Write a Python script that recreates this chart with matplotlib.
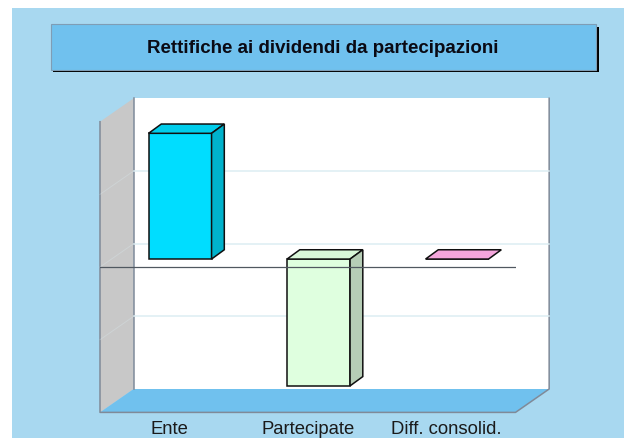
import matplotlib
matplotlib.use('Agg')
import matplotlib.pyplot as plt
from matplotlib.patches import Rectangle

plt.rcParams['font.family'] = ['Liberation Sans', 'DejaVu Sans']

title = 'Rettifiche ai dividendi da partecipazioni'
categories = ['Ente', 'Partecipate', 'Diff. consolid.']
values = [1.73, -1.745, 0.0]
grid_values = [-1, 0, 1]
face_colors = ['#00DDFF', '#DFFFDF', '#F4A6DC']
side_colors = ['#00B2CC', '#B6CDB6', '#C485B0']
top_colors = ['#00CDEB', '#D9F7D9', '#F4A6DC']

W, H = 624, 439
BG = '#A8D8F0'
BLUE = '#70C1EE'
WALL = '#C8C8C8'
EDGE = '#808A98'
GRID = '#DCEDF2'

# depth of the whole box and of one bar, in data units
DX, DY = 0.243, 0.322
BAR_DX, BAR_DY = 0.092, 0.128
LIFT_X, LIFT_Y = 0.078, 0.11
BAR_W = 0.455


def px_rect(fig, x0, y0, x1, y1, **kw):
    # rectangle given in image pixels, y going down
    r = Rectangle((x0 / W, 1 - y1 / H), (x1 - x0) / W, (y1 - y0) / H,
                  transform=fig.transFigure, zorder=-1, **kw)
    fig.add_artist(r)


fig = plt.figure(figsize=(W / 100, H / 100), dpi=100, facecolor='white')
px_rect(fig, 12, 9, W, H, fc=BG, ec='none')
px_rect(fig, 53, 28, 598.5, 73, fc='#000000', ec='none')
px_rect(fig, 51, 25, 596, 70.5, fc=BLUE, ec='#7F9DB5', lw=0.8)
fig.text(323 / W, 1 - 48.5 / H, title, ha='center', va='center',
         fontsize=13.5, fontweight='bold', color='#0A0A14')

ax = fig.add_axes([100 / W, 1 - 413.4 / H, 415.5 / W, 290.7 / H])
ax.set_xlim(0, 3)
ax.set_ylim(-2, 2)
ax.patch.set_visible(False)
for s in ax.spines.values():
    s.set_visible(False)
ax.set_yticks([])
ax.set_xticks([i + 0.5 for i in range(len(categories))])
ax.set_xticklabels(categories, fontsize=13.3, color='#1A1A1A')
ax.tick_params(axis='x', length=0, pad=5.5)

# walls and floor
ax.fill([DX, 3 + DX, 3 + DX, DX], [-2 + DY, -2 + DY, 2 + DY, 2 + DY],
        fc='white', ec='none', clip_on=False, zorder=1)
ax.fill([0, DX, DX, 0], [-2, -2 + DY, 2 + DY, 2], fc=WALL, ec='none', clip_on=False, zorder=1)
ax.fill([0, 3, 3 + DX, DX], [-2, -2, -2 + DY, -2 + DY], fc=BLUE, ec='none', clip_on=False, zorder=1)
ax.plot([0, 0, 3, 3 + DX, 3 + DX], [2, -2, -2, -2 + DY, 2 + DY], color=EDGE, lw=1.1,
        clip_on=False, zorder=2)
ax.plot([DX, DX], [-2 + DY, 2 + DY], color=EDGE, lw=1.1, clip_on=False, zorder=2)

for g in grid_values:
    ax.plot([DX, 3 + DX], [g + DY, g + DY], color=GRID, lw=1.1, clip_on=False, zorder=2)
    ax.plot([0, DX], [g, g + DY], color=GRID, lw=0.7, alpha=0.3, clip_on=False, zorder=2)

# bars: front face is a real bar, the two others follow from its value
xs = [i + 0.5 + LIFT_X for i in range(len(values))]
bars = ax.bar(xs, values, width=BAR_W, bottom=LIFT_Y, color=face_colors, edgecolor='#101010',
              linewidth=1.1, zorder=4, clip_on=False)
for x, v, side, top in zip(xs, values, side_colors, top_colors):
    x0, x1 = x - BAR_W / 2, x + BAR_W / 2
    y0, y1 = min(v, 0) + LIFT_Y, max(v, 0) + LIFT_Y
    ax.fill([x0, x1, x1 + BAR_DX, x0 + BAR_DX], [y1, y1, y1 + BAR_DY, y1 + BAR_DY],
            fc=top, ec='#101010', lw=1.1, zorder=4, clip_on=False)
    if v != 0:
        ax.fill([x1, x1 + BAR_DX, x1 + BAR_DX, x1], [y0, y0 + BAR_DY, y1 + BAR_DY, y1],
                fc=side, ec='#101010', lw=1.1, zorder=4, clip_on=False)

ax.axhline(0, color='#505860', lw=0.9, zorder=5)

fig.savefig('out.png', dpi=100)
